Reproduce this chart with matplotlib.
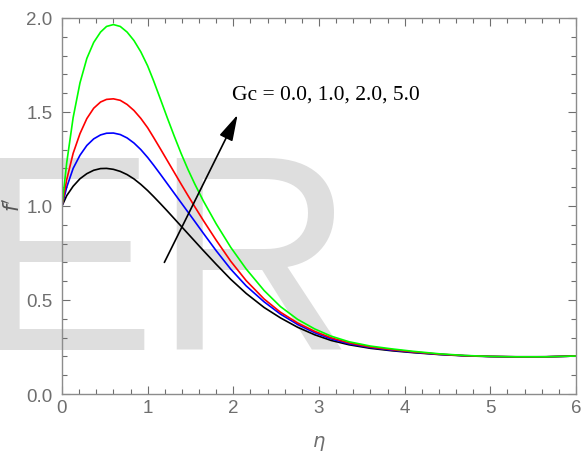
import matplotlib
matplotlib.use('Agg')
import matplotlib.pyplot as plt
from matplotlib.ticker import MultipleLocator

# eta grid and f' profiles, one list per Gc value
eta = [0, 0.055, 0.13, 0.21, 0.29, 0.37, 0.45, 0.52, 0.60, 0.68, 0.76, 0.84,
       0.92, 1.0, 1.07, 1.15, 1.23, 1.31, 1.39, 1.47, 1.55, 1.65, 1.8, 1.97,
       2.15, 2.36, 2.55, 2.75, 2.95, 3.14, 3.35, 3.6, 3.85, 4.1, 4.4, 4.7,
       5.0, 5.3, 5.65, 6.0]

gc_0 = [1.00, 1.055, 1.105, 1.145, 1.172, 1.19, 1.199, 1.20, 1.195, 1.184,
        1.167, 1.144, 1.115, 1.082, 1.05, 1.012, 0.973, 0.933, 0.893, 0.853,
        0.813, 0.763, 0.69, 0.61, 0.535, 0.46, 0.405, 0.355, 0.315, 0.285,
        0.262, 0.243, 0.23, 0.22, 0.21, 0.203, 0.199, 0.197, 0.198, 0.202]

gc_1 = [1.00, 1.10, 1.20, 1.27, 1.322, 1.357, 1.378, 1.387, 1.388, 1.38,
        1.362, 1.335, 1.30, 1.258, 1.217, 1.168, 1.118, 1.068, 1.018, 0.968,
        0.918, 0.855, 0.762, 0.664, 0.575, 0.49, 0.425, 0.37, 0.326, 0.293,
        0.267, 0.247, 0.233, 0.222, 0.211, 0.204, 0.200, 0.198, 0.198, 0.202]

gc_2 = [1.00, 1.14, 1.28, 1.385, 1.465, 1.52, 1.553, 1.567, 1.57, 1.562,
        1.54, 1.508, 1.466, 1.416, 1.364, 1.303, 1.241, 1.179, 1.117, 1.056,
        0.996, 0.923, 0.818, 0.706, 0.603, 0.505, 0.435, 0.378, 0.333, 0.299,
        0.272, 0.25, 0.236, 0.224, 0.212, 0.204, 0.200, 0.198, 0.198, 0.202]

gc_5 = [1.00, 1.23, 1.47, 1.655, 1.785, 1.87, 1.925, 1.955, 1.965, 1.955,
        1.925, 1.88, 1.82, 1.745, 1.665, 1.567, 1.468, 1.372, 1.28, 1.195,
        1.117, 1.027, 0.905, 0.78, 0.665, 0.55, 0.465, 0.397, 0.346, 0.308,
        0.278, 0.255, 0.24, 0.227, 0.214, 0.205, 0.200, 0.198, 0.198, 0.202]

series = [gc_0, gc_1, gc_2, gc_5]
colours = ['black', 'blue', 'red', '#00ff00']

grey = '#6e6e6e'

fig = plt.figure(figsize=(5.86, 4.52), dpi=100)
ax = fig.add_axes([0.1058, 0.1261, 0.8771, 0.8319])
ax.set_facecolor('none')

# faint watermark behind the curves
fig.text(-0.05, 0.2266, 'E', fontsize=200, color='#dedede',
         family='Liberation Sans', zorder=-1)
fig.text(0.261, 0.2266, 'R', fontsize=200, color='#dedede',
         family='Liberation Sans', zorder=-1)

for y, c in zip(series, colours):
    ax.plot(eta, y, color=c, lw=1.2)

# arrow + label
ax.annotate('', xy=(2.05, 1.485), xytext=(1.195, 0.70),
            arrowprops=dict(arrowstyle='-|>,head_length=0.8,head_width=0.22',
                            color='black', lw=1.2, mutation_scale=20,
                            shrinkA=0, shrinkB=0))
ax.text(1.99, 1.545, 'Gc = 0.0, 1.0, 2.0, 5.0', fontsize=15.5,
        family='Liberation Serif', color='black', va='bottom', ha='left')

ax.set_xlim(0, 6)
ax.set_ylim(0, 2.0)
ax.xaxis.set_major_locator(MultipleLocator(1))
ax.xaxis.set_minor_locator(MultipleLocator(0.2))
ax.yaxis.set_major_locator(MultipleLocator(0.5))
ax.yaxis.set_minor_locator(MultipleLocator(0.1))
ax.set_yticks([0, 0.5, 1.0, 1.5, 2.0], ['0.0', '0.5', '1.0', '1.5', '2.0'])

ax.tick_params(which='both', direction='in', top=True, right=True,
               color=grey, labelcolor=grey, labelsize=13.5, width=0.8)
ax.tick_params(which='major', length=6)
ax.tick_params(which='minor', length=3.5)
ax.tick_params(axis='y', pad=7)
for lab in ax.get_xticklabels() + ax.get_yticklabels():
    lab.set_family('Liberation Sans')
for s in ax.spines.values():
    s.set_color('#8c8c8c')
    s.set_linewidth(1.0)

ax.set_xlabel(r'$\eta$', color=grey, fontsize=14, labelpad=12)
ax.set_ylabel(r"$f'$", color='#555555', fontsize=15)
ax.yaxis.set_label_coords(-0.075, 0.505)

fig.savefig('out.png', dpi=100)
